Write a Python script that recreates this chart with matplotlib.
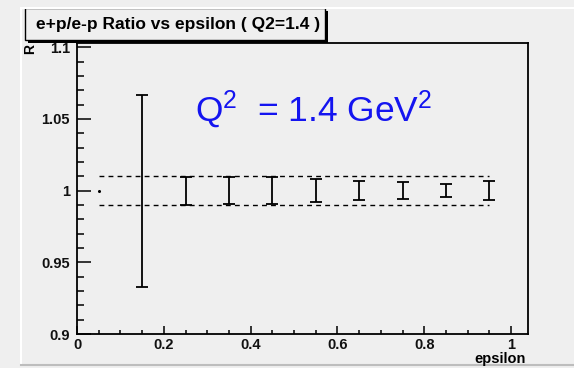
import numpy as np
import matplotlib.pyplot as plt
from matplotlib.patches import Rectangle
from matplotlib.lines import Line2D
from matplotlib.ticker import MultipleLocator

plt.rcParams['font.family'] = ['Liberation Sans', 'DejaVu Sans']
plt.rcParams['mathtext.fontset'] = 'custom'
plt.rcParams['mathtext.rm'] = 'Liberation Sans'
plt.rcParams['mathtext.it'] = 'Liberation Sans'

# ratio points and their errors
epsilon = [0.05, 0.15, 0.25, 0.35, 0.45, 0.55, 0.65, 0.75, 0.85, 0.95]
ratio = [1.0, 1.0, 1.0, 1.0, 1.0, 1.0, 1.0, 1.0, 1.0, 1.0]
ratio_err = [0.0, 0.067, 0.0098, 0.0093, 0.0093, 0.0078, 0.0066, 0.0057, 0.0043, 0.0066]

# +-1% band
band_lo, band_hi = 0.99, 1.01
band_x = [0.05, 0.95]

bg = '#efefef'
W, H = 574, 368

fig = plt.figure(figsize=(W / 100, H / 100), dpi=100, facecolor=bg)
ax = fig.add_axes([77 / W, 1 - 334 / H, (528 - 77) / W, (334 - 43) / H], facecolor=bg)

x = np.array(epsilon)
y = np.array(ratio)
e = np.array(ratio_err)
has_err = e > 0

ax.errorbar(x[has_err], y[has_err], yerr=e[has_err], fmt='none', ecolor='black',
            elinewidth=1.3, capsize=4.3, capthick=1.3)
ax.plot(x[~has_err], y[~has_err], 'o', color='black', markersize=1.2)

for yy in (band_lo, band_hi):
    ax.plot(band_x, [yy, yy], color='black', lw=1.0, dashes=(3.5, 3))

ax.text(0.272, 1.048, 'Q$^2$  = 1.4 GeV$^2$', color='#1414f0', fontsize=25.5)

ax.set_xlim(0, 1.039)
ax.set_ylim(0.9, 1.103)
ax.xaxis.set_major_locator(MultipleLocator(0.2))
ax.xaxis.set_minor_locator(MultipleLocator(0.05))
ax.yaxis.set_major_locator(MultipleLocator(0.05))
ax.yaxis.set_minor_locator(MultipleLocator(0.01))
ax.set_xticks([0, 0.2, 0.4, 0.6, 0.8, 1])
ax.set_xticklabels(['0', '0.2', '0.4', '0.6', '0.8', '1'])
ax.set_yticks([0.9, 0.95, 1.0, 1.05, 1.1])
ax.set_yticklabels(['0.9', '0.95', '1', '1.05', '1.1'])

ax.tick_params(axis='y', which='major', direction='in', length=10, width=1.1, pad=5,
               labelsize=10.5, right=False)
ax.tick_params(axis='y', which='minor', direction='in', length=5, width=1.1, right=False)
ax.tick_params(axis='x', which='major', direction='in', length=6, width=1.1, pad=3,
               labelsize=10.5, top=False)
ax.tick_params(axis='x', which='minor', direction='in', length=3, width=1.1, top=False)
for lab in ax.get_xticklabels() + ax.get_yticklabels():
    lab.set_fontweight('bold')
    lab.set_color('#111111')
for sp in ax.spines.values():
    sp.set_linewidth(1.3)

fig.text(30 / W, 1 - 44 / H, 'R', rotation=90, ha='center', va='top',
         fontsize=10, fontweight='bold')
fig.text(526 / W, 1 - 359 / H, 'epsilon', ha='right', va='center',
         fontsize=10.5, fontweight='bold')

# pad bevel edges
fig.add_artist(Line2D([21 / W, 21 / W], [1 - 365 / H, 1 - 8 / H], color='white', lw=1.5))
fig.add_artist(Line2D([21 / W, 1], [1 - 8 / H, 1 - 8 / H], color='white', lw=1.5))
fig.add_artist(Line2D([21 / W, 1], [1 - 365 / H, 1 - 365 / H], color='#bdbdbd', lw=1.5))

# title box with shadow
fig.add_artist(Rectangle((28 / W, 1 - 43 / H), 300 / W, 32 / H, transform=fig.transFigure,
                         facecolor='black', edgecolor='none'))
fig.add_artist(Rectangle((25 / W, 1 - 40 / H), 300 / W, 32 / H, transform=fig.transFigure,
                         facecolor=bg, edgecolor='black', lw=1.0))
fig.text(178 / W, 1 - 24 / H, 'e+p/e-p Ratio vs epsilon ( Q2=1.4 )', ha='center',
         va='center', fontsize=12.5, fontweight='bold')

fig.savefig('out.png', dpi=100, facecolor=bg)
